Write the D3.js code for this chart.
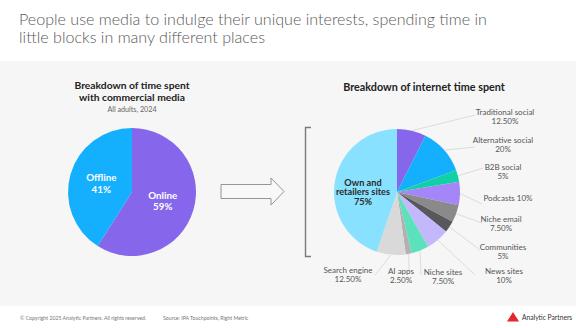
<!DOCTYPE html>
<html><head><meta charset="utf-8">
<script src="https://cdn.jsdelivr.net/npm/d3@7"></script>
<style>
html,body{margin:0;padding:0;background:#fff;}
svg{display:block;}
text{font-family:Lato,"Open Sans",sans-serif;}
</style></head>
<body>
<svg id="c" width="576" height="328"></svg>
<script>
// ---- data ----
const mediaCategories = ["Online", "Offline"];
const mediaValues = [59, 41];
const mediaColors = ["#8667ec", "#14affd"];

const netCategories = ["Traditional social","Alternative social","B2B social","Podcasts","Niche email","Communities","News sites","Niche sites","AI apps","Search engine","Own and retailers sites"];
const netValues = [12.5, 20, 5, 10, 7.5, 5, 10, 7.5, 2.5, 12.5, 75];
const netLabels = [["Traditional social","12.50%"],["Alternative social","20%"],["B2B social","5%"],["Podcasts 10%"],["Niche email","7.50%"],["Communities","5%"],["News sites","10%"],["Niche sites","7.50%"],["AI apps","2.50%"],["Search engine","12.50%"],["Own and","retailers sites","75%"]];
const netColors = ["#8667ec","#14affd","#10d0a6","#a586f8","#8a8a8b","#58585c","#c2b8fb","#5be2bc","#b1b1b1","#d9d9d9","#88e1fe"];

// layout (label anchors and leader ends)
const netLabelPos = [[505,115],[503,143],[503,170],[508,201],[501,222],[503,250],[504,274],[443,275],[401,274],[348,273],[363,185.5]];
const netLeaderEnd = [[475,115],[475,147],[483,168],[482,204],[482,223],[480,250],[475,275],[421,275],[409,272],[375,275],null];

const svg = d3.select("#c");
svg.append("rect").attr("x",0).attr("y",0).attr("width",576).attr("height",328).attr("fill","#ffffff");
svg.append("rect").attr("x",0).attr("y",61).attr("width",576).attr("height",245).attr("fill","#f6f6f6");

// headline
const headline = ["People use media to indulge their unique interests, spending time in","little blocks in many different places"];
const h = svg.append("g");
headline.forEach((t,i)=>{
  h.append("text").attr("x",19).attr("y",25+i*18).attr("font-size",16.5).attr("font-weight",300)
   .attr("fill","#5a5a5a").text(t);
});
const first = h.select("text").node();
const w = first.getComputedTextLength();
const fs = 16.5*468/w;
h.selectAll("text").attr("font-size",fs);

// ---- left pie ----
const lc = [132,192], lr = 64;
const pie = d3.pie().sort(null).value(d=>d);
const arcL = d3.arc().innerRadius(0).outerRadius(lr);
const gL = svg.append("g").attr("transform",`translate(${lc})`);
const lData = pie(mediaValues);
gL.selectAll("path").data(lData).enter().append("path")
  .attr("d",arcL).attr("fill",(d,i)=>mediaColors[i]);
const lLabelArc = d3.arc().innerRadius(lr*0.5).outerRadius(lr*0.5);
lData.forEach((d,i)=>{
  const c = lLabelArc.centroid(d);
  const t = gL.append("text").attr("text-anchor","middle").attr("fill","#fff")
    .attr("font-weight",700).attr("font-size",9.8);
  t.append("tspan").attr("x",c[0]).attr("y",c[1]-2).text(mediaCategories[i]);
  t.append("tspan").attr("x",c[0]).attr("y",c[1]+9.5).text(mediaValues[i]+"%");
});

svg.append("text").attr("x",132).attr("y",89).attr("text-anchor","middle").attr("font-weight",700)
  .attr("font-size",10.3).attr("fill","#222").text("Breakdown of time spent");
svg.append("text").attr("x",132).attr("y",101).attr("text-anchor","middle").attr("font-weight",700)
  .attr("font-size",10.3).attr("fill","#222").text("with commercial media");
svg.append("text").attr("x",132).attr("y",111.5).attr("text-anchor","middle")
  .attr("font-size",7.2).attr("fill","#666").text("All adults, 2024");

// arrow
svg.append("path")
  .attr("d","M221,184.5 L271,184.5 L271,178 L284,191.5 L271,205 L271,198.5 L221,198.5 Z")
  .attr("fill","#f8f8f8").attr("stroke","#8a8a8a").attr("stroke-width",0.9);

// bracket
svg.append("path").attr("d","M311,127.5 L305.5,127.5 L305.5,256.5 L311,256.5")
  .attr("fill","none").attr("stroke","#7a7a7a").attr("stroke-width",1.4);

// ---- right pie ----
const rc = [397,192], rr = 63;
const arcR = d3.arc().innerRadius(0).outerRadius(rr);
const rData = pie(netValues);
const gR = svg.append("g").attr("transform",`translate(${rc})`);
gR.selectAll("path").data(rData).enter().append("path")
  .attr("d",arcR).attr("fill",(d,i)=>netColors[i]);

svg.append("text").attr("x",424).attr("y",90.5).attr("text-anchor","middle").attr("font-weight",700)
  .attr("font-size",10.8).attr("fill","#222").text("Breakdown of internet time spent");

// leader lines
const edgeArc = d3.arc().innerRadius(rr).outerRadius(rr);
rData.forEach((d,i)=>{
  const e = netLeaderEnd[i];
  if(!e) return;
  const s = edgeArc.centroid(d);
  svg.append("line").attr("x1",rc[0]+s[0]).attr("y1",rc[1]+s[1]).attr("x2",e[0]).attr("y2",e[1])
    .attr("stroke","#d4d4d4").attr("stroke-width",0.8);
});
// labels
netLabels.forEach((lines,i)=>{
  const p = netLabelPos[i];
  const inside = i===netLabels.length-1;
  const t = svg.append("text").attr("text-anchor","middle")
    .attr("font-size",inside?9.2:8).attr("font-weight",inside?700:400)
    .attr("fill",inside?"#2a2a2a":"#555");
  lines.forEach((ln,j)=>{
    t.append("tspan").attr("x",p[0]).attr("y",p[1]+j*(inside?9.8:9)).text(ln);
  });
});

// footer
svg.append("text").attr("x",20).attr("y",319.5).attr("font-size",5.2).attr("fill","#777")
  .text("© Copyright 2025 Analytic Partners. All rights reserved.");
svg.append("text").attr("x",163).attr("y",319.5).attr("font-size",5.2).attr("fill","#777")
  .text("Source: IPA Touchpoints, Right Metric");
svg.append("path").attr("d","M507,321.5 L513,312 L519,321.5 Z").attr("fill","#e8262a");
svg.append("text").attr("x",522).attr("y",320).attr("font-size",6.7).attr("fill","#333")
  .text("Analytic Partners");
</script>
</body></html>
